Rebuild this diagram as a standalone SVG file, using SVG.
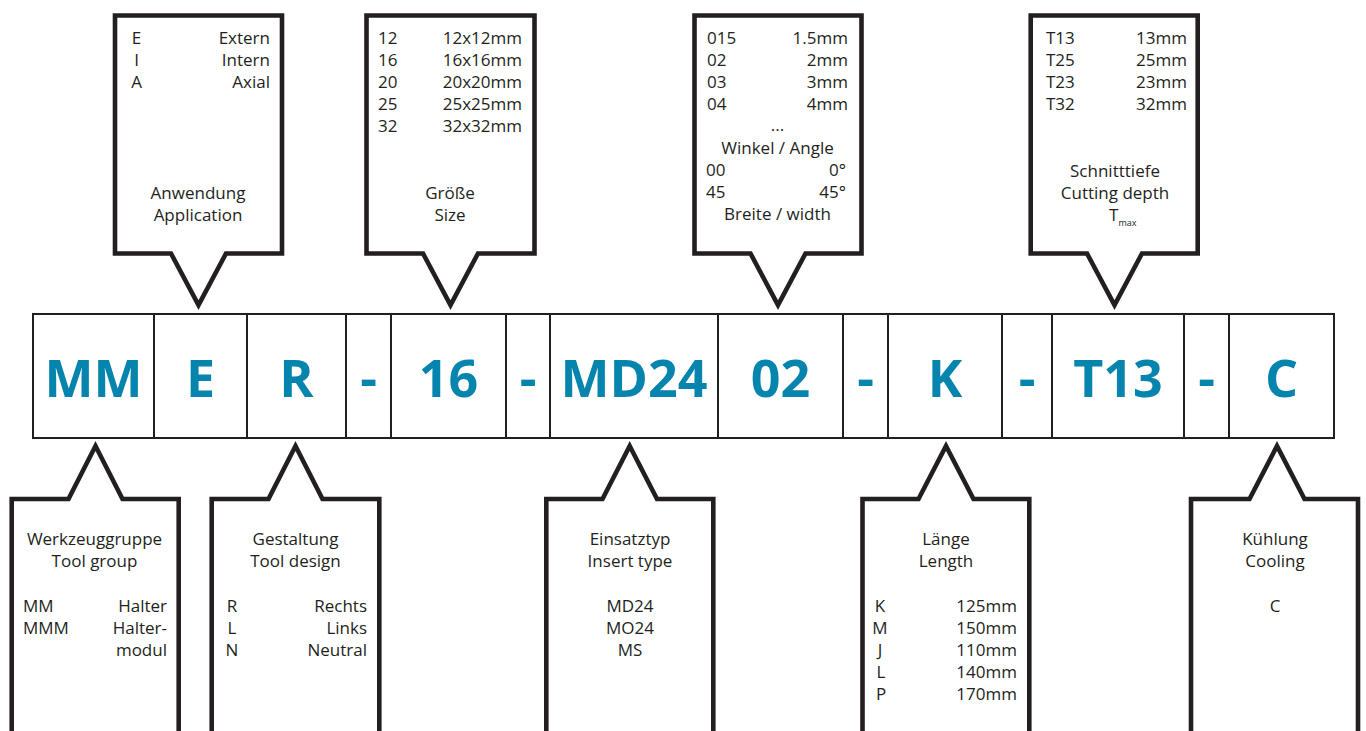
<svg xmlns="http://www.w3.org/2000/svg" width="1366" height="731" viewBox="0 0 1366 731">
<style>
.co{fill:#fff;stroke:#231f20;stroke-width:4.6;stroke-linejoin:miter;stroke-miterlimit:10}
.t{font-family:"Open Sans","Liberation Sans",sans-serif;font-size:17px;fill:#231f20}
.m{text-anchor:middle}
.e{text-anchor:end}
.code{font-family:"Open Sans","Liberation Sans",sans-serif;font-size:52px;font-weight:700;fill:#0584ad;text-anchor:middle}
.cell{fill:#fff;stroke:#231f20;stroke-width:2}
</style>
<rect width="1366" height="731" fill="#fff"/>

<g id="code-row">
<rect class="cell" x="33" y="314" width="1301" height="124" stroke-width="2.6"/>
<path d="M154 314V438M247 314V438M346 314V438M391 314V438M506 314V438M550 314V438M718 314V438M843 314V438M888 314V438M1002 314V438M1052 314V438M1184 314V438M1229 314V438" stroke="#231f20" stroke-width="2" fill="none"/>
<text class="code" x="93.5" y="397">MM</text>
<text class="code" x="200.5" y="397">E</text>
<text class="code" x="296.5" y="397">R</text>
<text class="code" x="368.5" y="397">-</text>
<text class="code" x="448.5" y="397">16</text>
<text class="code" x="528" y="397">-</text>
<text class="code" x="634" y="397">MD24</text>
<text class="code" x="780.5" y="397">02</text>
<text class="code" x="865.5" y="397">-</text>
<text class="code" x="945" y="397">K</text>
<text class="code" x="1027" y="397">-</text>
<text class="code" x="1118" y="397">T13</text>
<text class="code" x="1206.5" y="397">-</text>
<text class="code" x="1281.5" y="397">C</text>
</g>

<g id="connectors"></g>

<g id="anwendung">
<path class="co" d="M115 15.5H282V253.5H226L198.5 305L171 253.5H115Z"/>
<text class="t m" x="136.5" y="43.5">E</text><text class="t e" x="270" y="43.5">Extern</text>
<text class="t m" x="136.5" y="65.5">I</text><text class="t e" x="270" y="65.5">Intern</text>
<text class="t m" x="136.5" y="87.5">A</text><text class="t e" x="270" y="87.5">Axial</text>
<text class="t m" x="198" y="199">Anwendung</text>
<text class="t m" x="198" y="221">Application</text>
</g>

<g id="groesse">
<path class="co" d="M366.5 15.5H534.5V253.5H478L450.5 305L423 253.5H366.5Z"/>
<text class="t" x="378" y="43.5">12</text><text class="t e" x="522" y="43.5">12x12mm</text>
<text class="t" x="378" y="65.5">16</text><text class="t e" x="522" y="65.5">16x16mm</text>
<text class="t" x="378" y="87.5">20</text><text class="t e" x="522" y="87.5">20x20mm</text>
<text class="t" x="378" y="109.5">25</text><text class="t e" x="522" y="109.5">25x25mm</text>
<text class="t" x="378" y="131.5">32</text><text class="t e" x="522" y="131.5">32x32mm</text>
<text class="t m" x="450" y="199">Größe</text>
<text class="t m" x="450" y="221">Size</text>
</g>

<g id="breite">
<path class="co" d="M694.5 15.5H861.5V253.5H805.5L778 305L750.5 253.5H694.5Z"/>
<text class="t" x="707" y="43.5">015</text><text class="t e" x="848" y="43.5">1.5mm</text>
<text class="t" x="707" y="65.5">02</text><text class="t e" x="848" y="65.5">2mm</text>
<text class="t" x="707" y="87.5">03</text><text class="t e" x="848" y="87.5">3mm</text>
<text class="t" x="707" y="109.5">04</text><text class="t e" x="848" y="109.5">4mm</text>
<text class="t m" x="777.5" y="131">...</text>
<text class="t m" x="777.5" y="153.5">Winkel / Angle</text>
<text class="t" x="706" y="175.5">00</text><text class="t e" x="846" y="175.5">0°</text>
<text class="t" x="706" y="197.5">45</text><text class="t e" x="846" y="197.5">45°</text>
<text class="t m" x="777.5" y="220">Breite / width</text>
</g>

<g id="schnitttiefe">
<path class="co" d="M1030.7 15.5H1197.7V253.5H1142L1114.5 305L1087 253.5H1030.7Z"/>
<text class="t" x="1046" y="43.5">T13</text><text class="t e" x="1187" y="43.5">13mm</text>
<text class="t" x="1046" y="65.5">T25</text><text class="t e" x="1187" y="65.5">25mm</text>
<text class="t" x="1046" y="87.5">T23</text><text class="t e" x="1187" y="87.5">23mm</text>
<text class="t" x="1046" y="109.5">T32</text><text class="t e" x="1187" y="109.5">32mm</text>
<text class="t m" x="1115" y="177">Schnitttiefe</text>
<text class="t m" x="1115" y="199">Cutting depth</text>
<text class="t" x="1109" y="221">T<tspan font-size="9" dy="5">max</tspan></text>
</g>

<g id="werkzeuggruppe">
<path class="co" d="M11.7 745V499H68.5L95.5 446L122.5 499H178.7V745"/>
<text class="t m" x="94.5" y="545">Werkzeuggruppe</text>
<text class="t m" x="94.5" y="567">Tool group</text>
<text class="t" x="23" y="611.5">MM</text><text class="t e" x="167" y="611.5">Halter</text>
<text class="t" x="23" y="633.5">MMM</text><text class="t e" x="167" y="633.5">Halter-</text>
<text class="t e" x="167" y="655.5">modul</text>
</g>

<g id="gestaltung">
<path class="co" d="M211.7 745V499H268.5L295.5 446L322.5 499H379.3V745"/>
<text class="t m" x="295.5" y="545">Gestaltung</text>
<text class="t m" x="295.5" y="567">Tool design</text>
<text class="t m" x="232" y="611.5">R</text><text class="t e" x="367" y="611.5">Rechts</text>
<text class="t m" x="232" y="633.5">L</text><text class="t e" x="367" y="633.5">Links</text>
<text class="t m" x="232" y="655.5">N</text><text class="t e" x="367" y="655.5">Neutral</text>
</g>

<g id="einsatztyp">
<path class="co" d="M546.3 745V499H602.5L629.7 446L657 499H713.3V745"/>
<text class="t m" x="630" y="545">Einsatztyp</text>
<text class="t m" x="630" y="567">Insert type</text>
<text class="t m" x="630" y="611.5">MD24</text>
<text class="t m" x="630" y="633.5">MO24</text>
<text class="t m" x="630" y="655.5">MS</text>
</g>

<g id="laenge">
<path class="co" d="M862.5 745V499H918.5L946 446L973.5 499H1029.3V745"/>
<text class="t m" x="946" y="545">Länge</text>
<text class="t m" x="946" y="567">Length</text>
<text class="t m" x="880" y="611.5">K</text><text class="t e" x="1017" y="611.5">125mm</text>
<text class="t m" x="880" y="633.5">M</text><text class="t e" x="1017" y="633.5">150mm</text>
<text class="t m" x="880" y="655.5">J</text><text class="t e" x="1017" y="655.5">110mm</text>
<text class="t m" x="881" y="677.5">L</text><text class="t e" x="1017" y="677.5">140mm</text>
<text class="t m" x="881" y="699.5">P</text><text class="t e" x="1017" y="699.5">170mm</text>
</g>

<g id="kuehlung">
<path class="co" d="M1191 745V499H1249.5L1277 446L1304.5 499H1358V745"/>
<text class="t m" x="1275" y="545">Kühlung</text>
<text class="t m" x="1275" y="567">Cooling</text>
<text class="t m" x="1275" y="611.5">C</text>
</g>
</svg>
